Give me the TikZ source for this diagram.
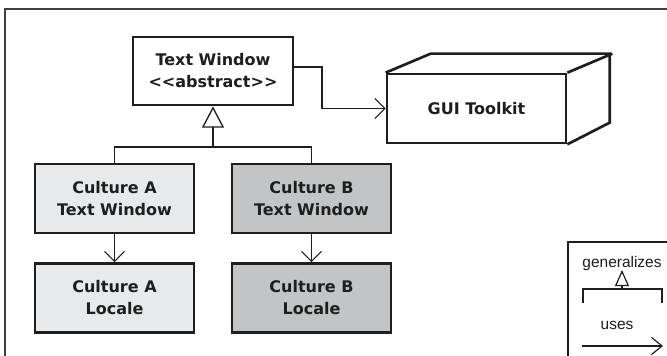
\documentclass[tikz,border=0pt]{standalone}
\usepackage{fontspec}
\setmainfont{DejaVu Sans}
\newfontfamily\legfont{Liberation Sans}
\usetikzlibrary{arrows.meta}
\definecolor{cA}{HTML}{E8E9EA}
\definecolor{cB}{HTML}{C3C4C5}
\definecolor{ink}{HTML}{1E1E1E}
\begin{document}
\begin{tikzpicture}[x=0.75pt,y=-0.75pt,
  box/.style={draw=ink, line width=2pt, align=center, inner sep=0pt,
    minimum width=119.25pt, minimum height=51.75pt,
    font=\bfseries\fontsize{12}{16.5}\selectfont, text=ink},
  conn/.style={draw=ink, line width=0.8pt},
  uses/.style={conn, -{Straight Barb[length=7.5pt,width=15pt]}},
  gen/.style={conn, -{Triangle[open,length=16pt,width=16.5pt,line width=1pt]}},
  leg/.style={draw=ink, line width=0.9pt},
  legtext/.style={font=\legfont\fontsize{11.6}{14}\selectfont, text=ink, inner sep=0pt}
]
\useasboundingbox (0,0) rectangle (667,356);
\fill[white] (0,0) rectangle (667,356);
\begin{scope}
\clip (0,0) rectangle (667,356);
\draw[draw=ink!85, line width=1.2pt] (5,9) rectangle (720,420);
% legend frame
\draw[leg] (568,242) rectangle (720,420);
\end{scope}

% main nodes
\node[box, fill=white, minimum width=120pt, minimum height=51pt] (TW) at (213,71) {Text Window\\<{}<abstract>{}>};
\node[box, fill=white, minimum width=134.25pt, minimum height=51.75pt] (G) at (476.5,108.5) {GUI Toolkit};
\draw[draw=ink, line width=2pt, line join=miter]
  (G.north west) -- ++(45,-19) -- ++(179,0) -- ++(0,69) -- (G.south east)
  (G.north east) -- ++(45,-19);

\node[box, fill=cA] (CA) at (114.5,198.5) {Culture A\\Text Window};
\node[box, fill=cB] (CB) at (311.5,198.5) {Culture B\\Text Window};
\node[box, fill=cA] (LA) at (114.5,298) {Culture A\\Locale};
\node[box, fill=cB] (LB) at (311.5,298) {Culture B\\Locale};

% uses TW -> GUI
\coordinate (k1) at (322,67);
\draw[uses] (TW.east |- k1) -- (k1) |- (G.west);

% generalization
\coordinate (j) at (213,147);
\draw[gen] (j) -- (TW.south);
\draw[conn] (CA.north) |- (j) -| (CB.north);

% uses culture -> locale
\draw[uses] (CA.south) -- (LA.north);
\draw[uses] (CB.south) -- (LB.north);

% legend
\node[legtext] (lg) at (622,263) {generalizes};
\coordinate (bl) at (583,303);
\coordinate (br) at (662,303);
\coordinate (bm) at (622,289);
\coordinate (tt) at (622,270);
\draw[leg] (bl) |- (bm) -| (br);
\draw[leg, -{Triangle[open,length=12pt,width=10.5pt,line width=0.9pt]}] (bm) -- (tt);
\node[legtext] (lu) at (617,325) {uses};
\coordinate (ua) at (582,346);
\coordinate (ub) at (663,346);
\draw[leg, -{Straight Barb[length=8pt,width=13pt]}] (ua) -- (ub);
\end{tikzpicture}
\end{document}
